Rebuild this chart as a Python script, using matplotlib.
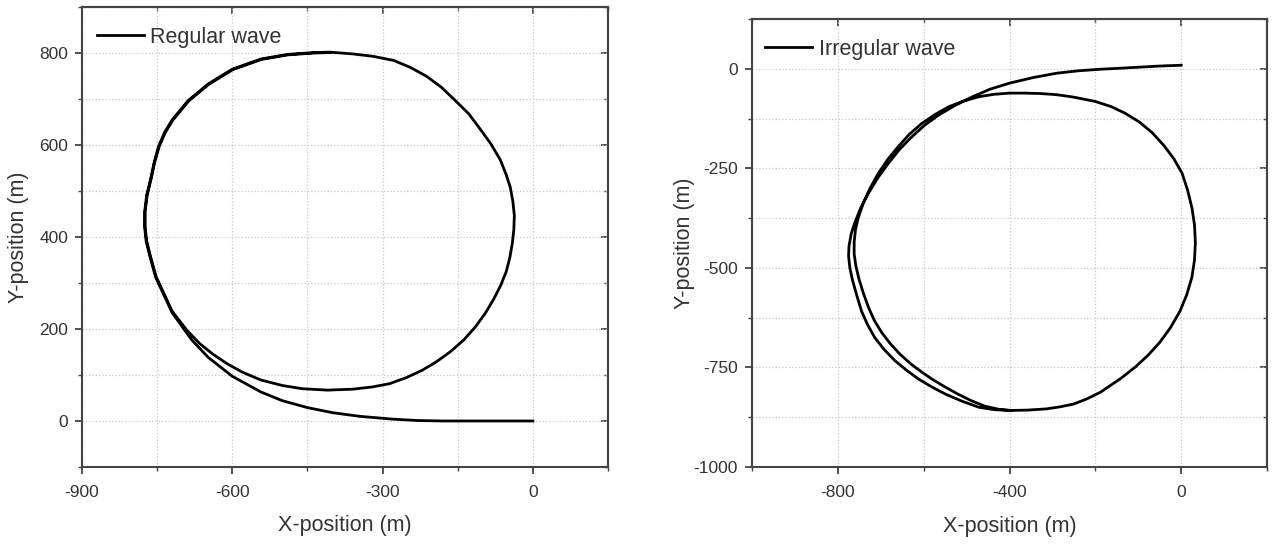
"""
Turning circle trajectories in regular and irregular waves
"""

import matplotlib as mpl

mpl.use("Agg")
import matplotlib.pyplot as plt
from matplotlib.ticker import MultipleLocator

plt.rcParams["font.family"] = ["Liberation Sans", "DejaVu Sans"]
plt.rcParams["axes.unicode_minus"] = False

# Regular wave trajectory: tail, first loop, second pass
regular_x = [0, -60, -120, -180, -230, -280, -345, -400, -450, -500, -543, -600,
             -648, -681, -720, -753, -764, -772, -775, -775, -771, -763, -756, -747,
             -735, -720, -688, -648, -600, -543, -490, -438, -406, -359, -320, -278,
             -245, -213, -183, -155, -128, -106, -84, -65, -54, -45, -40, -37,
             -38, -41, -46, -53, -64, -78, -95, -115, -138, -164, -192, -221,
             -253, -286, -320, -360, -410, -460, -500, -543, -580, -610, -640, -665,
             -690, -720, -752, -763, -771, -774, -774, -770, -762, -755, -746, -734,
             -719, -687, -647, -599, -542, -489, -437, -405]
regular_y = [0, 0, 0, 0, 1, 4, 10, 18, 29, 44, 63, 97,
             138, 176, 235, 312, 355, 390, 420, 455, 490, 526, 562, 597,
             627, 654, 696, 732, 764, 786, 796, 800, 801, 797, 792, 783,
             768, 749, 725, 696, 667, 635, 602, 567, 537, 507, 477, 446,
             416, 386, 355, 325, 295, 265, 234, 204, 176, 151, 129, 110,
             94, 81, 74, 69, 67, 70, 77, 89, 106, 124, 146, 168,
             196, 238, 313, 356, 391, 421, 455, 490, 526, 562, 596, 626,
             653, 695, 731, 763, 785, 795, 799, 800]

# Irregular wave trajectory: tail, first loop, second pass
irregular_x = [0, -50, -100, -150, -188, -240, -290, -345, -400, -445, -486, -527,
               -565, -597, -627, -656, -682, -707, -729, -747, -761, -769, -774, -775,
               -772, -766, -757, -745, -731, -714, -692, -667, -640, -612, -581, -549,
               -510, -471, -435, -400, -357, -314, -283, -251, -220, -188, -140, -106,
               -77, -50, -25, -3, 13, 25, 31, 33, 31, 25, 15, 2,
               -17, -40, -67, -97, -130, -163, -200, -251, -290, -329, -365, -400,
               -436, -471, -507, -541, -574, -604, -633, -659, -684, -706, -725, -741,
               -753, -759, -762, -762, -758, -751, -741, -729, -715, -698, -678, -655,
               -630, -604, -578, -550, -520, -490, -458, -425, -395]
irregular_y = [9, 7, 4, 1, -1, -5, -11, -22, -36, -51, -70, -92,
               -116, -141, -170, -202, -237, -274, -313, -350, -388, -415, -445, -470,
               -500, -530, -565, -608, -642, -675, -705, -733, -757, -779, -799, -817,
               -835, -850, -856, -858, -857, -854, -849, -842, -829, -812, -777, -748,
               -719, -687, -650, -609, -567, -523, -480, -436, -392, -349, -305, -262,
               -226, -193, -161, -134, -112, -95, -82, -71, -65, -62, -61, -61,
               -64, -70, -81, -95, -115, -137, -164, -195, -228, -263, -300, -338,
               -376, -405, -435, -465, -495, -527, -562, -598, -632, -662, -690, -717,
               -741, -762, -781, -799, -817, -833, -847, -855, -858]

text_color = "#333333"
spine_color = "#444444"

fig = plt.figure(figsize=(12.72, 5.44), dpi=100)
ax1 = fig.add_axes([0.0645, 0.1415, 0.4135, 0.8465])
ax2 = fig.add_axes([0.5912, 0.1415, 0.4049, 0.8235])


def style_axes(ax, xmaj, xmin, ymaj, ymin):
    ax.xaxis.set_major_locator(MultipleLocator(xmaj))
    ax.xaxis.set_minor_locator(MultipleLocator(xmin))
    ax.yaxis.set_major_locator(MultipleLocator(ymaj))
    ax.yaxis.set_minor_locator(MultipleLocator(ymin))
    ax.grid(True, which="both", color="#c8c8c8", linestyle=":", linewidth=0.9)
    ax.set_axisbelow(True)
    for sp in ax.spines.values():
        sp.set_color(spine_color)
        sp.set_linewidth(1.5)
    ax.tick_params(which="major", direction="out", length=5, width=1.3,
                   color=spine_color, labelsize=12.5, labelcolor=text_color)
    ax.tick_params(which="minor", direction="out", length=3, width=1.0, color=spine_color)
    ax.tick_params(axis="x", which="major", pad=8)
    ax.tick_params(axis="y", which="major", pad=5)

    # inward ticks on top and right
    top = ax.secondary_xaxis("top")
    top.xaxis.set_major_locator(MultipleLocator(xmaj))
    top.xaxis.set_minor_locator(MultipleLocator(xmin))
    top.tick_params(which="major", direction="in", length=5, width=1.3,
                    color=spine_color, labeltop=False)
    top.tick_params(which="minor", direction="in", length=3, width=1.0, color=spine_color)
    top.spines["top"].set_color(spine_color)
    top.spines["top"].set_linewidth(1.5)

    right = ax.secondary_yaxis("right")
    right.yaxis.set_major_locator(MultipleLocator(ymaj))
    right.yaxis.set_minor_locator(MultipleLocator(ymin))
    right.tick_params(which="major", direction="in", length=5, width=1.3,
                      color=spine_color, labelright=False)
    right.tick_params(which="minor", direction="in", length=3, width=1.0, color=spine_color)
    right.spines["right"].set_color(spine_color)
    right.spines["right"].set_linewidth(1.5)

    ax.set_xlabel("X-position (m)", fontsize=15.5, color=text_color, va="center")
    ax.set_ylabel("Y-position (m)", fontsize=15.5, color=text_color, va="center")


# Left: regular wave
ax1.plot(regular_x, regular_y, color="black", linewidth=2.0, label="Regular wave")
ax1.set_xlim(-900, 150)
ax1.set_ylim(-100, 900)
style_axes(ax1, 300, 150, 200, 100)
ax1.xaxis.set_label_coords(0.5, -0.128)
ax1.yaxis.set_label_coords(-0.121, 0.5)

# Right: irregular wave
ax2.plot(irregular_x, irregular_y, color="black", linewidth=2.0, label="Irregular wave")
ax2.set_xlim(-1000, 200)
ax2.set_ylim(-1000, 125)
style_axes(ax2, 400, 200, 250, 125)
ax2.xaxis.set_label_coords(0.5, -0.132)
ax2.yaxis.set_label_coords(-0.132, 0.5)

for ax, xa in ((ax1, 0.0275), (ax2, 0.025)):
    leg = ax.legend(loc="center left", bbox_to_anchor=(xa, 0.933), frameon=False,
                    fontsize=15.5, handlelength=2.2, handletextpad=0.3, borderpad=0,
                    borderaxespad=0)
    for t in leg.get_texts():
        t.set_color(text_color)

fig.savefig("out.png", dpi=100, facecolor="white")
